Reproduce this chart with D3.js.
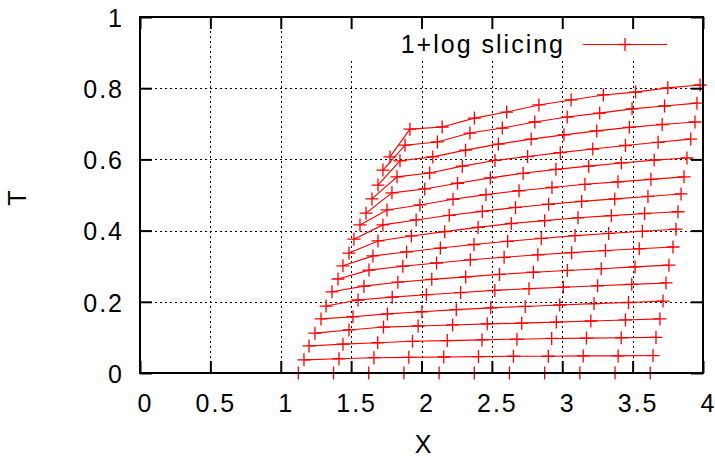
<!DOCTYPE html>
<html>
<head>
<meta charset="utf-8">
<script src="https://cdn.jsdelivr.net/npm/d3@7"></script>
<style>
  body { margin: 0; background: #fff; }
  svg { display: block; font-family: "Liberation Sans", Arial, sans-serif; }
</style>
</head>
<body>
<div id="chart"></div>
<script>
// tick labels
const xTicks = [0, 0.5, 1, 1.5, 2, 2.5, 3, 3.5, 4];
const tTicks = [0, 0.2, 0.4, 0.6, 0.8, 1];
const seriesName = "1+log slicing";

// one row per T slice: X positions of the points
const sliceX = [
  [1.125, 1.375, 1.625, 1.875, 2.125, 2.375, 2.625, 2.875, 3.125, 3.375, 3.625],
  [1.165, 1.414, 1.662, 1.910, 2.158, 2.405, 2.653, 2.901, 3.149, 3.397, 3.645],
  [1.201, 1.442, 1.689, 1.936, 2.183, 2.430, 2.678, 2.925, 3.172, 3.419, 3.666],
  [1.243, 1.485, 1.730, 1.976, 2.221, 2.467, 2.712, 2.958, 3.203, 3.449, 3.694],
  [1.286, 1.513, 1.758, 2.003, 2.247, 2.492, 2.737, 2.982, 3.226, 3.471, 3.716],
  [1.322, 1.549, 1.792, 2.035, 2.278, 2.521, 2.764, 3.008, 3.251, 3.494, 3.737],
  [1.364, 1.591, 1.832, 2.073, 2.314, 2.554, 2.795, 3.036, 3.277, 3.517, 3.758],
  [1.407, 1.627, 1.867, 2.107, 2.347, 2.587, 2.827, 3.067, 3.307, 3.547, 3.787],
  [1.442, 1.655, 1.894, 2.134, 2.373, 2.612, 2.851, 3.091, 3.330, 3.569, 3.808],
  [1.485, 1.691, 1.928, 2.165, 2.402, 2.638, 2.875, 3.112, 3.349, 3.585, 3.822],
  [1.520, 1.726, 1.962, 2.197, 2.432, 2.668, 2.903, 3.138, 3.373, 3.609, 3.844],
  [1.563, 1.755, 1.989, 2.224, 2.458, 2.693, 2.927, 3.161, 3.396, 3.630, 3.865],
  [1.606, 1.790, 2.023, 2.256, 2.489, 2.722, 2.955, 3.188, 3.420, 3.653, 3.886],
  [1.648, 1.826, 2.058, 2.290, 2.522, 2.754, 2.986, 3.217, 3.449, 3.681, 3.913],
  [1.691, 1.847, 2.080, 2.313, 2.546, 2.779, 3.012, 3.245, 3.477, 3.710, 3.943],
  [1.726, 1.883, 2.113, 2.344, 2.574, 2.805, 3.035, 3.266, 3.496, 3.727, 3.957],
  [1.776, 1.918, 2.147, 2.376, 2.605, 2.834, 3.063, 3.292, 3.521, 3.750, 3.979]
];

// matching T values
const sliceT = [
  [0, 0, 0, 0, 0, 0, 0, 0, 0, 0, 0],
  [0.037, 0.040, 0.043, 0.044, 0.045, 0.046, 0.047, 0.047, 0.048, 0.048, 0.049],
  [0.076, 0.081, 0.085, 0.089, 0.091, 0.093, 0.095, 0.097, 0.098, 0.099, 0.100],
  [0.112, 0.121, 0.129, 0.132, 0.135, 0.138, 0.140, 0.143, 0.146, 0.149, 0.152],
  [0.152, 0.158, 0.166, 0.172, 0.178, 0.183, 0.187, 0.191, 0.195, 0.198, 0.202],
  [0.188, 0.205, 0.213, 0.220, 0.226, 0.232, 0.237, 0.241, 0.245, 0.249, 0.253],
  [0.228, 0.244, 0.255, 0.263, 0.270, 0.277, 0.283, 0.288, 0.293, 0.298, 0.303],
  [0.264, 0.289, 0.300, 0.309, 0.318, 0.325, 0.332, 0.338, 0.344, 0.349, 0.354],
  [0.301, 0.329, 0.340, 0.351, 0.361, 0.370, 0.378, 0.386, 0.392, 0.398, 0.404],
  [0.337, 0.371, 0.385, 0.397, 0.409, 0.420, 0.428, 0.436, 0.442, 0.448, 0.453],
  [0.376, 0.416, 0.430, 0.443, 0.454, 0.465, 0.474, 0.482, 0.489, 0.496, 0.503],
  [0.416, 0.458, 0.472, 0.488, 0.501, 0.512, 0.521, 0.530, 0.537, 0.544, 0.551],
  [0.449, 0.506, 0.517, 0.533, 0.548, 0.561, 0.572, 0.581, 0.590, 0.598, 0.604],
  [0.489, 0.551, 0.562, 0.581, 0.597, 0.608, 0.619, 0.629, 0.639, 0.648, 0.657],
  [0.528, 0.596, 0.607, 0.626, 0.643, 0.657, 0.669, 0.680, 0.690, 0.698, 0.705],
  [0.570, 0.640, 0.649, 0.674, 0.688, 0.705, 0.719, 0.730, 0.742, 0.750, 0.758],
  [0.607, 0.685, 0.691, 0.716, 0.733, 0.753, 0.767, 0.781, 0.789, 0.801, 0.809]
];

const width = 715, height = 459;
const plotLeft = 140, plotRight = 703, plotTop = 17, plotBottom = 373;
const red = "#ff0000";
const tick = 12;

const svg = d3.select("#chart")
    .append("svg")
    .attr("width", width)
    .attr("height", height);

const x = d3.scaleLinear().domain([0, 4]).range([plotLeft, plotRight]);
const y = d3.scaleLinear().domain([0, 1]).range([plotBottom, plotTop]);

// dotted grid
const grid = svg.append("g")
    .attr("stroke", "#000")
    .attr("stroke-width", 1)
    .attr("stroke-dasharray", "2,3");
grid.selectAll(".gx")
    .data(xTicks.slice(1, -1))
    .enter()
    .append("line")
    .attr("x1", d => Math.round(x(d)) + 0.5)
    .attr("x2", d => Math.round(x(d)) + 0.5)
    .attr("y1", plotBottom)
    .attr("y2", plotTop);
grid.selectAll(".gy")
    .data(tTicks.slice(1, -1))
    .enter()
    .append("line")
    .attr("y1", d => Math.round(y(d)) + 0.5)
    .attr("y2", d => Math.round(y(d)) + 0.5)
    .attr("x1", plotLeft)
    .attr("x2", plotRight);

// opaque key box hides the grid under it
svg.append("rect")
    .attr("x", 345)
    .attr("y", plotTop + tick)
    .attr("width", plotRight - 345 - 1)
    .attr("height", 31)
    .attr("fill", "#fff");

// build rows of points
const rows = sliceX.map((xs, i) => xs.map((v, j) => [v, sliceT[i][j]]));

const line = d3.line()
    .x(d => x(d[0]))
    .y(d => y(d[1]));

const plot = svg.append("g");

plot.selectAll("path.row")
    .data(rows)
    .enter()
    .append("path")
    .attr("class", "row")
    .attr("d", line)
    .attr("fill", "none")
    .attr("stroke", red)
    .attr("stroke-width", 1.1);

const plus = "M-6.5,0H6.5M0,-6.5V6.5";

plot.selectAll("path.pt")
    .data(rows.flat())
    .enter()
    .append("path")
    .attr("class", "pt")
    .attr("d", plus)
    .attr("transform", d => `translate(${x(d[0])},${y(d[1])})`)
    .attr("fill", "none")
    .attr("stroke", red)
    .attr("stroke-width", 1.3);

// key
svg.append("line")
    .attr("x1", 583).attr("x2", 667)
    .attr("y1", 44.5).attr("y2", 44.5)
    .attr("stroke", red)
    .attr("stroke-width", 1.1);
svg.append("path")
    .attr("d", plus)
    .attr("transform", "translate(625,44.5)")
    .attr("fill", "none")
    .attr("stroke", red)
    .attr("stroke-width", 1.3);
svg.append("text")
    .attr("x", 565)
    .attr("y", 53)
    .attr("text-anchor", "end")
    .style("font-size", "25px")
    .style("letter-spacing", "2px")
    .text(seriesName);

// axes: ticks point inwards on all four sides
const fmt = d3.format("");

const xAxis = svg.append("g")
    .attr("transform", `translate(0,${plotBottom})`)
    .call(d3.axisBottom(x).tickValues(xTicks).tickSizeInner(-tick).tickSizeOuter(0).tickFormat(fmt));
xAxis.selectAll("text")
    .attr("y", 39)
    .attr("dy", null)
    .attr("x", 5);

const yAxis = svg.append("g")
    .attr("transform", `translate(${plotLeft},0)`)
    .call(d3.axisLeft(y).tickValues(tTicks).tickSizeInner(-tick).tickSizeOuter(0).tickPadding(16).tickFormat(fmt));
yAxis.selectAll("text")
    .attr("dy", "0.37em");

svg.append("g")
    .attr("transform", `translate(0,${plotTop})`)
    .call(d3.axisTop(x).tickValues(xTicks).tickSizeInner(-tick).tickSizeOuter(0).tickFormat(""));
svg.append("g")
    .attr("transform", `translate(${plotRight},0)`)
    .call(d3.axisRight(y).tickValues(tTicks).tickSizeInner(-tick).tickSizeOuter(0).tickFormat(""));

svg.selectAll(".domain").remove();
svg.selectAll(".tick line").attr("stroke", "#000").attr("stroke-width", 2);
svg.selectAll(".tick text")
    .attr("fill", "#000")
    .style("font-size", "25px")
    .style("letter-spacing", "2px")
    .style("font-family", "'Liberation Sans', Arial, sans-serif");

// border
svg.append("rect")
    .attr("x", plotLeft)
    .attr("y", plotTop)
    .attr("width", plotRight - plotLeft)
    .attr("height", plotBottom - plotTop)
    .attr("fill", "none")
    .attr("stroke", "#000")
    .attr("stroke-width", 2);

// axis titles
svg.append("text")
    .attr("x", 423)
    .attr("y", 453)
    .attr("text-anchor", "middle")
    .style("font-size", "25px")
    .text("X");

svg.append("text")
    .attr("transform", "translate(26,198) rotate(-90)")
    .attr("text-anchor", "middle")
    .style("font-size", "25px")
    .text("T");
</script>
</body>
</html>
